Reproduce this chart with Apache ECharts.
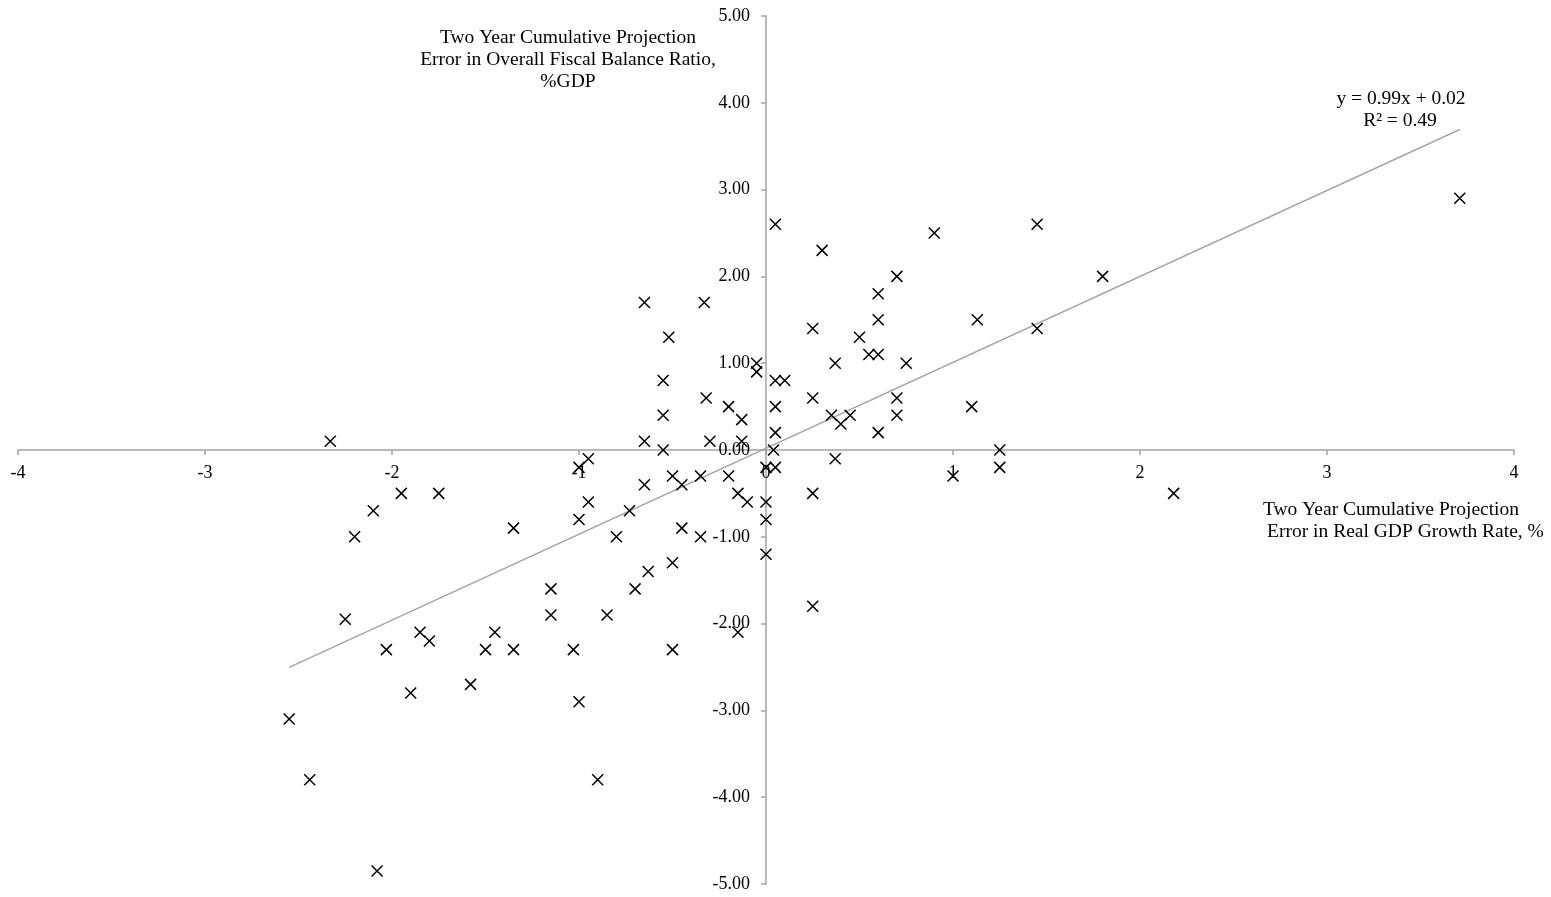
<!DOCTYPE html>
<html>
<head>
<meta charset="utf-8">
<script src="https://cdn.jsdelivr.net/npm/echarts@6/dist/echarts.min.js"></script>
<style>
html,body{margin:0;padding:0;background:#fff;}
#chart{width:1551px;height:897px;}
</style>
</head>
<body>
<div id="chart"></div>
<script>
// Two year cumulative projection error in real GDP growth rate, %
const gdpError = [
  -2.33, -0.65, -0.55, -0.30, -0.13, -0.13, -0.20, -0.32, -0.55, -0.55,
  -0.52, -0.65, -0.33, -0.05, -0.05, -0.95, -1.00, -0.50, -0.35, -0.20,
  -0.65, -0.45, 0.00, 0.05, -1.95, -1.75, -0.15, -0.95, -0.10, 0.00,
  -2.10, -0.73, -1.00, 0.00, -1.35, -0.45, -2.20, -0.80, -0.35, 0.00,
  -0.50, -0.63, -1.15, -0.70, -1.15, -0.85, -2.25, -1.85, -1.80, -1.45,
  -0.15, -2.03, -1.50, -1.35, -1.03, -0.50, -1.58, -1.90, -1.00, -2.55,
  -2.44, -0.90, -2.08,
  0.05, 0.30, 0.90, 1.45, 0.70, 1.80, 0.60, 0.60, 1.13, 0.25,
  1.45, 0.50, 0.55, 0.60, 0.37, 0.75, 0.05, 0.10, 0.25, 0.70,
  1.10, 0.05, 0.35, 0.40, 0.45, 0.70, 0.05, 0.60, 0.04, 0.37,
  1.25, 1.25, 1.00, 0.25, 0.25, 2.18, 3.71
];
// Two year cumulative projection error in overall fiscal balance ratio, %GDP
const fiscalError = [
  0.10, 0.10, 0.00, 0.10, 0.10, 0.35, 0.50, 0.60, 0.40, 0.80,
  1.30, 1.70, 1.70, 1.00, 0.90, -0.10, -0.20, -0.30, -0.30, -0.30,
  -0.40, -0.40, -0.20, -0.20, -0.50, -0.50, -0.50, -0.60, -0.60, -0.60,
  -0.70, -0.70, -0.80, -0.80, -0.90, -0.90, -1.00, -1.00, -1.00, -1.20,
  -1.30, -1.40, -1.60, -1.60, -1.90, -1.90, -1.95, -2.10, -2.20, -2.10,
  -2.10, -2.30, -2.30, -2.30, -2.30, -2.30, -2.70, -2.80, -2.90, -3.10,
  -3.80, -3.80, -4.85,
  2.60, 2.30, 2.50, 2.60, 2.00, 2.00, 1.80, 1.50, 1.50, 1.40,
  1.40, 1.30, 1.10, 1.10, 1.00, 1.00, 0.80, 0.80, 0.60, 0.60,
  0.50, 0.50, 0.40, 0.30, 0.40, 0.40, 0.20, 0.20, 0.00, -0.10,
  0.00, -0.20, -0.30, -0.50, -1.80, -0.50, 2.90
];
const trendSlope = 0.99;
const trendIntercept = 0.02;
const trendLabels = ['y = 0.99x + 0.02', 'R\u00B2 = 0.49'];
const xAxisTitle = ['Two Year Cumulative Projection', ' Error in Real GDP Growth Rate, %'];
const yAxisTitle = ['Two Year Cumulative Projection', 'Error in Overall Fiscal Balance Ratio,', '%GDP'];

const points = gdpError.map((x, i) => [x, fiscalError[i]]);
const xMin = Math.min(...gdpError), xMax = Math.max(...gdpError);
const trendData = [[xMin, trendSlope * xMin + trendIntercept], [xMax, trendSlope * xMax + trendIntercept]];

const FONT = '"Liberation Serif", "Times New Roman", serif';
const TFONT = '19.5px ' + FONT;
const axisGray = '#a3a3a3';

const W = 1551, H = 897;
const G = {left: 18, right: 37, top: 16, bottom: 13};
const X_MIN = -4, X_MAX = 4, Y_MIN = -5, Y_MAX = 5;
const plotW = W - G.left - G.right, plotH = H - G.top - G.bottom;
// distance of the zero lines from the grid edges (axes cross at the origin)
const yAxisOffset = -plotW * (0 - X_MIN) / (X_MAX - X_MIN);
const xAxisOffset = -plotH * (0 - Y_MIN) / (Y_MAX - Y_MIN);

const chart = echarts.init(document.getElementById('chart'), null, {renderer: 'canvas'});
chart.setOption({
  animation: false,
  backgroundColor: '#ffffff',
  grid: Object.assign({containLabel: false, outerBoundsMode: 'none'}, G),
  xAxis: {
    type: 'value', min: X_MIN, max: X_MAX, interval: 1,
    position: 'bottom', offset: xAxisOffset,
    axisLine: {show: true, onZero: false, lineStyle: {color: axisGray, width: 1.5}},
    axisTick: {show: true, inside: false, length: 5, lineStyle: {color: axisGray, width: 1.5}},
    axisLabel: {margin: 14, color: '#000', fontFamily: FONT, fontSize: 18,
      formatter: v => String(v)},
    splitLine: {show: false}
  },
  yAxis: {
    type: 'value', min: Y_MIN, max: Y_MAX, interval: 1,
    position: 'left', offset: yAxisOffset,
    axisLine: {show: true, onZero: false, lineStyle: {color: axisGray, width: 1.5}},
    axisTick: {show: true, inside: false, length: 5, lineStyle: {color: axisGray, width: 1.5}},
    axisLabel: {margin: 16, color: '#000', fontFamily: FONT, fontSize: 18,
      formatter: v => v.toFixed(2)},
    splitLine: {show: false}
  },
  series: [
    {
      type: 'line', data: trendData, symbol: 'none', silent: true,
      lineStyle: {color: '#a6a6a6', width: 1.5}, z: 2
    },
    {
      type: 'scatter', data: points,
      symbol: 'path://M0,0L10,10M10,0L0,10', symbolSize: 11,
      itemStyle: {color: 'rgba(0,0,0,0)', borderColor: '#000', borderWidth: 1.5, opacity: 1},
      z: 3
    }
  ],
  graphic: [
    {type: 'text', x: 568, y: 38, style: {text: yAxisTitle[0], font: TFONT, fill: '#000', textAlign: 'center', textVerticalAlign: 'middle'}},
    {type: 'text', x: 568, y: 60, style: {text: yAxisTitle[1], font: TFONT, fill: '#000', textAlign: 'center', textVerticalAlign: 'middle'}},
    {type: 'text', x: 568, y: 82, style: {text: yAxisTitle[2], font: TFONT, fill: '#000', textAlign: 'center', textVerticalAlign: 'middle'}},
    {type: 'text', x: 1391, y: 510, style: {text: xAxisTitle[0], font: TFONT, fill: '#000', textAlign: 'center', textVerticalAlign: 'middle'}},
    {type: 'text', x: 1403, y: 532, style: {text: xAxisTitle[1], font: TFONT, fill: '#000', textAlign: 'center', textVerticalAlign: 'middle'}},
    {type: 'text', x: 1401, y: 99, style: {text: trendLabels[0], font: TFONT, fill: '#000', textAlign: 'center', textVerticalAlign: 'middle'}},
    {type: 'text', x: 1400, y: 121, style: {text: trendLabels[1], font: TFONT, fill: '#000', textAlign: 'center', textVerticalAlign: 'middle'}}
  ]
});
</script>
</body>
</html>
